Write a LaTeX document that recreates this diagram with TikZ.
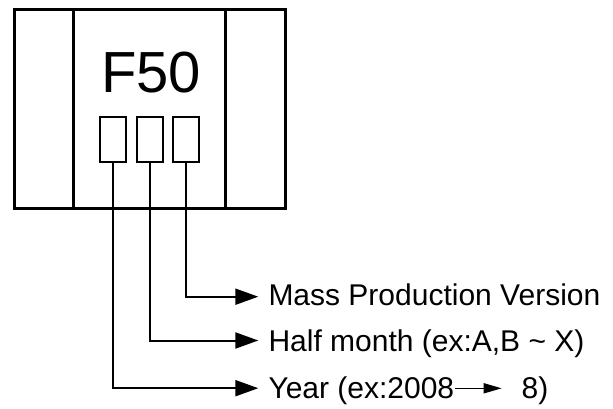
\documentclass[tikz,border=0pt]{standalone}
\usepackage{fontspec}
\setmainfont{Liberation Sans}
\usetikzlibrary{arrows.meta}
\tikzset{
  outerline/.style={line width=3pt},
  digitbox/.style={draw, line width=2pt, minimum width=26pt, minimum height=45pt, inner sep=0pt},
  conn/.style={line width=2pt, -{Triangle[length=23pt,width=16pt]}},
  smallarrow/.style={line width=1.6pt, -{Triangle[length=18pt,width=10pt]}},
  label/.style={anchor=base west, inner sep=0pt, font=\fontsize{30}{35}\selectfont},
}
\begin{document}
\begin{tikzpicture}[x=1pt,y=-1pt]
\useasboundingbox (0,0) rectangle (613,409);
% outer package
\node[draw, outerline, minimum width=271pt, minimum height=198pt, inner sep=0pt] (chip) at (149.5,109) {};
\draw[outerline] (73,10) -- (73,208);
\draw[outerline] (225,10) -- (225,208);
\node[anchor=base, inner sep=0pt, font=\fontsize{58}{64}\selectfont] (f50) at (151,93) {F50};
% digit boxes
\node[digitbox] (b1) at (113,139.5) {};
\node[digitbox] (b2) at (149.5,139.5) {};
\node[digitbox] (b3) at (186,139.5) {};
% arrow end points
\coordinate (e3) at (258.3,296.7);
\coordinate (e2) at (258.3,340.5);
\coordinate (e1) at (258.3,388.2);
\draw[conn] (b3.south) |- (e3);
\draw[conn] (b2.south) |- (e2);
\draw[conn] (b1.south) |- (e1);
% labels
\node[label] (t3) at (268.3,305) {Mass Production Version};
\node[label] (t2) at (268.3,351.5) {Half month (ex:A,B \textasciitilde\ X)};
\node[label] (t1) at (268.3,398) {Year (ex:2008};
\node[label] (t1b) at (521.5,398) {8)};
\coordinate (ya) at (455,388.3);
\coordinate (yb) at (501.7,388.3);
\draw[smallarrow] (ya) -- (yb);
\end{tikzpicture}
\end{document}
